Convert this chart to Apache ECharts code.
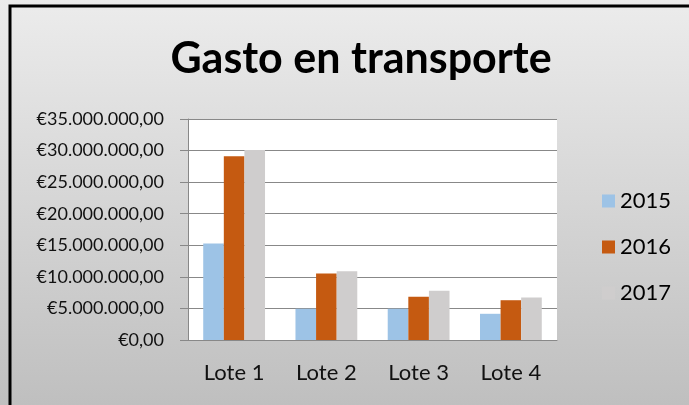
<!DOCTYPE html>
<html>
<head>
<meta charset="utf-8">
<script src="https://cdn.jsdelivr.net/npm/echarts@6/dist/echarts.min.js"></script>
<style>
  html, body { margin: 0; padding: 0; }
  #chart { width: 689px; height: 405px; }
</style>
</head>
<body>
<div id="chart"></div>
<script>
const lotes = ["Lote 1", "Lote 2", "Lote 3", "Lote 4"];
const years = ["2015", "2016", "2017"];
const gasto2015 = [15300000, 4950000, 4950000, 4150000];
const gasto2016 = [29100000, 10550000, 6850000, 6300000];
const gasto2017 = [30100000, 10900000, 7800000, 6750000];
const colors = ["#9dc3e6", "#c55a11", "#cfcdcd"];

const chart = echarts.init(document.getElementById("chart"));

// €35.000.000,00 style
function euro(v) {
  const s = Math.round(v).toString().replace(/\B(?=(\d{3})+(?!\d))/g, ".");
  return "€" + s + ",00";
}

const option = {
  animation: false,
  color: colors,
  graphic: [
    {
      type: "rect",
      z: -10,
      shape: { x: 0, y: 0, width: 689, height: 405 },
      style: {
        fill: new echarts.graphic.LinearGradient(0, 0, 0, 1, [
          { offset: 0, color: "#ececec" },
          { offset: 1, color: "#bfbfbf" },
        ]),
      },
    },
    {
      type: "rect",
      z: -9,
      shape: { x: 10, y: 6, width: 720, height: 440 },
      style: { fill: "none", stroke: "#000", lineWidth: 3 },
    },
  ],
  title: {
    text: "Gasto en transporte",
    left: 356,
    top: 33,
    textAlign: "center",
    textStyle: {
      fontFamily: "Lato",
      fontWeight: "bold",
      fontSize: 43,
      color: "#000",
    },
  },
  legend: {
    orient: "vertical",
    left: 597,
    top: 185,
    itemWidth: 13,
    itemHeight: 13,
    itemGap: 24,
    icon: "rect",
    textStyle: { fontFamily: "Lato", fontSize: 22, color: "#000" },
    data: years,
  },
  grid: {
    left: 188,
    right: 132,
    top: 119,
    bottom: 65,
    show: true,
    backgroundColor: "#fff",
    borderWidth: 0,
  },
  xAxis: {
    type: "category",
    data: lotes,
    axisLine: { lineStyle: { color: "#888" } },
    axisTick: { show: false },
    axisLabel: {
      fontFamily: "Lato",
      fontSize: 22,
      color: "#111",
      margin: 22,
    },
  },
  yAxis: {
    type: "value",
    min: 0,
    max: 35000000,
    interval: 5000000,
    axisLine: { show: true, lineStyle: { color: "#888" } },
    axisTick: { show: true, length: 8, lineStyle: { color: "#888" } },
    splitLine: { lineStyle: { color: "#888" } },
    axisLabel: {
      formatter: euro,
      fontFamily: "Lato",
      fontSize: 18,
      color: "#111",
      margin: 24,
    },
  },
  series: [
    { name: "2015", type: "bar", data: gasto2015, barGap: "0%", barCategoryGap: "33%" },
    { name: "2016", type: "bar", data: gasto2016 },
    { name: "2017", type: "bar", data: gasto2017 },
  ],
};

chart.setOption(option);
</script>
</body>
</html>
